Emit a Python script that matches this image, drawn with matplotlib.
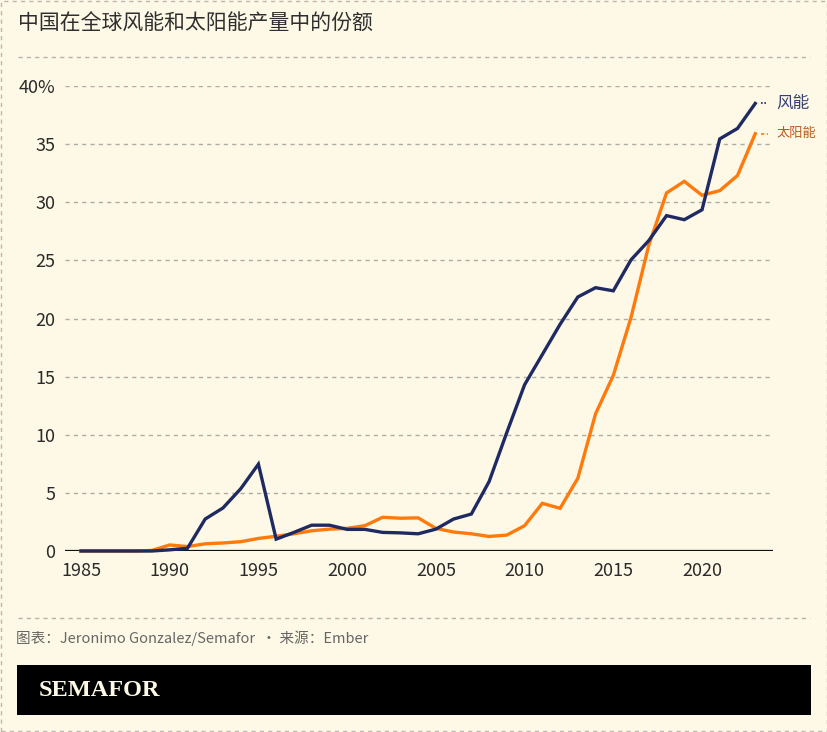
import matplotlib.pyplot as plt
from matplotlib.patches import Rectangle

plt.rcParams['font.family'] = ['Noto Sans CJK SC', 'DejaVu Sans']

years = list(range(1985, 2024))
wind = [0, 0, 0, 0, 0, 0.1, 0.23, 2.75, 3.7, 5.35, 7.47, 1.02, 1.6, 2.22,
        2.22, 1.86, 1.86, 1.6, 1.56, 1.48, 1.88, 2.75, 3.18, 5.97, 10.2,
        14.3, 16.9, 19.5, 21.85, 22.65, 22.38, 25.05, 26.7, 28.85, 28.5,
        29.35, 35.45, 36.35, 38.5]
solar = [0, 0, 0, 0, 0.05, 0.52, 0.38, 0.62, 0.69, 0.8, 1.08, 1.27, 1.48,
         1.74, 1.88, 1.95, 2.18, 2.9, 2.82, 2.85, 1.95, 1.63, 1.48, 1.25,
         1.37, 2.18, 4.1, 3.67, 6.25, 11.8, 15.1, 20.1, 26.3, 30.8, 31.8,
         30.6, 31.0, 32.3, 35.9]
yticks = [0, 5, 10, 15, 20, 25, 30, 35, 40]
ytick_labels = ["0", "5", "10", "15", "20", "25", "30", "35", "40%"]
xticks = [1985, 1990, 1995, 2000, 2005, 2010, 2015, 2020]

title = "中国在全球风能和太阳能产量中的份额"
source = "图表：Jeronimo Gonzalez/Semafor  • 来源：Ember"

W, H = 828, 732
bg = "#FDF9E6"
navy = "#1F2A63"
orange = "#FF7A0D"

fig = plt.figure(figsize=(W / 100, H / 100), dpi=100, facecolor=bg)


def fx(px):
    return px / W


def fy(py):
    return 1 - py / H


ax = fig.add_axes([fx(65), fy(551), fx(773) - fx(65), fy(86) - fy(551)])
ax.set_facecolor(bg)
ax.set_xlim(1984.1, 2024.0)
ax.set_ylim(0, 40)

for v in yticks[1:]:
    ax.axhline(v, color="#ADADA5", lw=1, ls=(0, (3, 3)), zorder=1)
ax.axhline(0, color="#111111", lw=1.6, zorder=3)

ax.plot(years, solar, color=orange, lw=2.4, zorder=4, clip_on=False,
        solid_joinstyle="miter")
ax.plot(years, wind, color=navy, lw=2.4, zorder=5, clip_on=False,
        solid_joinstyle="miter")

# end labels with small leaders
ax.plot([2023.35, 2023.6], [wind[-1], wind[-1]], color=navy, lw=1.2,
        ls=(0, (1, 1)), clip_on=False)
ax.plot([2023.35, 2023.7], [solar[-1], solar[-1]], color=orange, lw=1.2,
        ls=(0, (2, 1.5)), clip_on=False)
ax.text(2024.2, wind[-1], "风能", color="#3A3F73", fontsize=12,
        va="center", ha="left", clip_on=False)
ax.text(2024.2, solar[-1], "太阳能", color="#B85A1A", fontsize=9.5,
        va="center", ha="left", clip_on=False)

ax.set_yticks(yticks)
ax.set_yticklabels(ytick_labels)
ax.set_xticks(xticks)
ax.set_xticklabels([str(x) for x in xticks])
ax.tick_params(axis="both", length=0, labelsize=13, colors="#2A2A2A")
ax.tick_params(axis="y", pad=7)
ax.tick_params(axis="x", pad=8)
for s in ax.spines.values():
    s.set_visible(False)

# title, separators, source
fig.text(fx(18), fy(24), title, fontsize=15, color="#2E2E2E",
         va="center", ha="left")
for py in (57, 618):
    fig.add_artist(plt.Line2D([fx(18), fx(810)], [fy(py), fy(py)],
                              color="#B4B4AC", lw=1, ls=(0, (3, 3))))
fig.text(fx(16), fy(638), source, fontsize=10.5, color="#666666",
         va="center", ha="left")

# footer band
fig.add_artist(Rectangle((fx(17), fy(715)), fx(811) - fx(17),
                         fy(665) - fy(715), transform=fig.transFigure,
                         facecolor="black", edgecolor="none"))
fig.text(fx(39), fy(691), "SEMAFOR", fontsize=17.5, color="#FDF9E6",
         fontweight="bold", family="Liberation Serif", va="center",
         ha="left")

# dashed border
fig.add_artist(Rectangle((fx(1), fy(731)), fx(826), fy(1) - fy(731),
                         transform=fig.transFigure, facecolor="none",
                         edgecolor="#B8B8B0", lw=1, ls=(0, (3, 3))))

fig.savefig("out.png", dpi=100, facecolor=bg)
